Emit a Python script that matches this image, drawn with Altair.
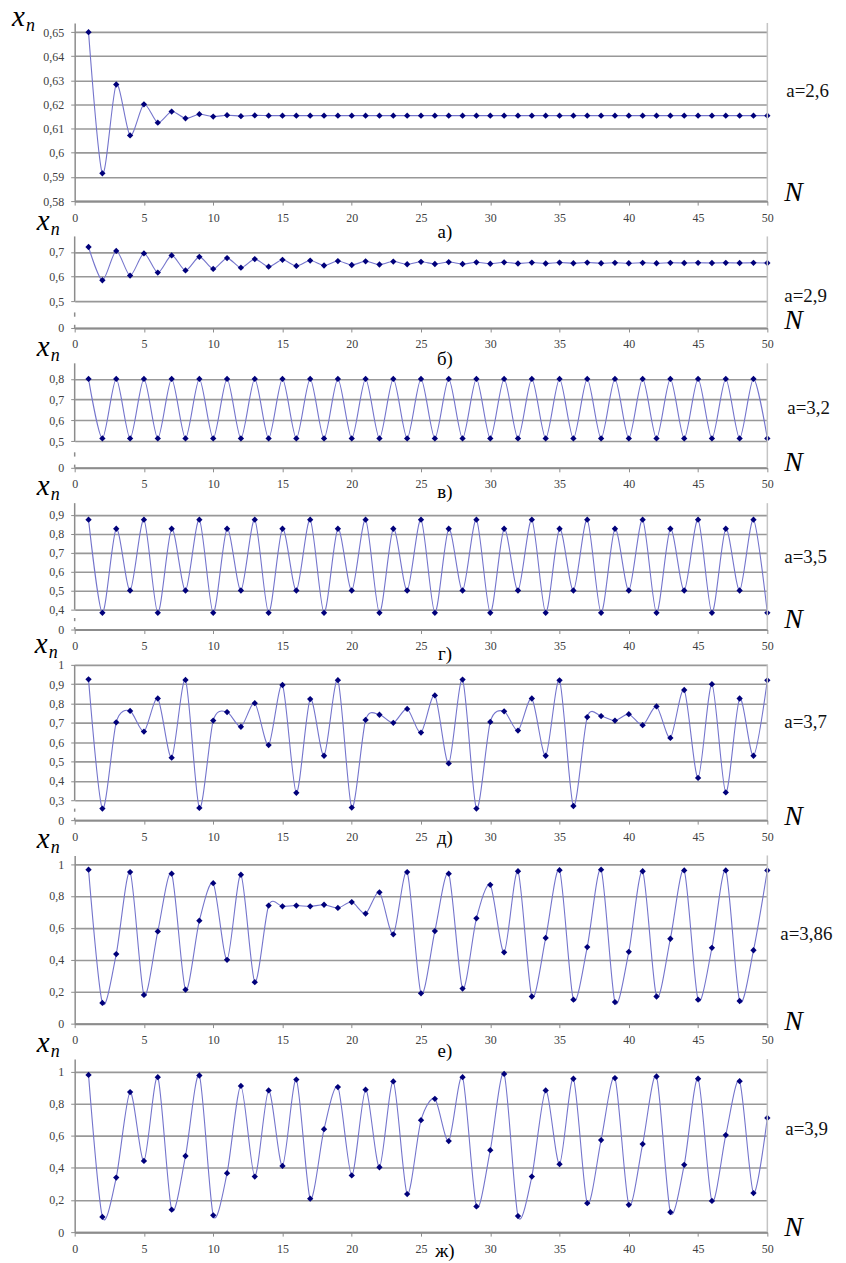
import altair as alt
import pandas as pd

SERIF = "Liberation Serif, Times New Roman, Tinos, DejaVu Serif, serif"

N = list(range(1, 51))

# a = 2.6
x_26 = [0.650, 0.5915, 0.6283, 0.6072, 0.6201, 0.6125, 0.6171, 0.6143, 0.6160, 0.6150,
        0.6156, 0.6152, 0.6155, 0.6154, 0.6154, 0.6154, 0.6154, 0.6154, 0.6154, 0.6154,
        0.6154, 0.6154, 0.6154, 0.6154, 0.6154, 0.6154, 0.6154, 0.6154, 0.6154, 0.6154,
        0.6154, 0.6154, 0.6154, 0.6154, 0.6154, 0.6154, 0.6154, 0.6154, 0.6154, 0.6154,
        0.6154, 0.6154, 0.6154, 0.6154, 0.6154, 0.6154, 0.6154, 0.6154, 0.6154, 0.6154]
# a = 2.9
x_29 = [0.720, 0.585, 0.704, 0.604, 0.694, 0.616, 0.686, 0.625, 0.680, 0.631,
        0.675, 0.636, 0.671, 0.640, 0.668, 0.643, 0.665, 0.645, 0.663, 0.647,
        0.662, 0.649, 0.661, 0.650, 0.660, 0.651, 0.659, 0.651, 0.658, 0.652,
        0.658, 0.653, 0.657, 0.653, 0.657, 0.654, 0.657, 0.654, 0.656, 0.654,
        0.656, 0.654, 0.656, 0.655, 0.656, 0.655, 0.656, 0.655, 0.656, 0.655]
# a = 3.2
x_32 = [0.800, 0.513, 0.800, 0.513, 0.800, 0.513, 0.800, 0.513, 0.800, 0.513,
        0.800, 0.513, 0.800, 0.513, 0.800, 0.513, 0.800, 0.513, 0.800, 0.513,
        0.800, 0.513, 0.800, 0.513, 0.800, 0.513, 0.800, 0.513, 0.800, 0.513,
        0.800, 0.513, 0.800, 0.513, 0.800, 0.513, 0.800, 0.513, 0.800, 0.513,
        0.800, 0.513, 0.800, 0.513, 0.800, 0.513, 0.800, 0.513, 0.800, 0.513]
# a = 3.5
x_35 = [0.875, 0.383, 0.827, 0.501, 0.875, 0.383, 0.827, 0.501, 0.875, 0.383,
        0.827, 0.501, 0.875, 0.383, 0.827, 0.501, 0.875, 0.383, 0.827, 0.501,
        0.875, 0.383, 0.827, 0.501, 0.875, 0.383, 0.827, 0.501, 0.875, 0.383,
        0.827, 0.501, 0.875, 0.383, 0.827, 0.501, 0.875, 0.383, 0.827, 0.501,
        0.875, 0.383, 0.827, 0.501, 0.875, 0.383, 0.827, 0.501, 0.875, 0.383]
# a = 3.7
x_37 = [0.925, 0.257, 0.703, 0.762, 0.655, 0.826, 0.520, 0.922, 0.260, 0.712,
        0.756, 0.680, 0.802, 0.585, 0.896, 0.338, 0.823, 0.530, 0.921, 0.262,
        0.715, 0.742, 0.700, 0.772, 0.650, 0.842, 0.490, 0.924, 0.257, 0.705,
        0.760, 0.660, 0.826, 0.530, 0.920, 0.270, 0.730, 0.735, 0.712, 0.745,
        0.688, 0.785, 0.622, 0.870, 0.415, 0.900, 0.340, 0.826, 0.530, 0.920]
# a = 3.86
x_386 = [0.965, 0.130, 0.436, 0.950, 0.180, 0.578, 0.940, 0.213, 0.645, 0.880,
         0.400, 0.933, 0.260, 0.740, 0.735, 0.740, 0.735, 0.745, 0.725, 0.762,
         0.690, 0.823, 0.560, 0.950, 0.190, 0.580, 0.940, 0.220, 0.660, 0.870,
         0.447, 0.955, 0.170, 0.537, 0.962, 0.150, 0.480, 0.965, 0.135, 0.450,
         0.955, 0.170, 0.532, 0.960, 0.150, 0.475, 0.960, 0.142, 0.460, 0.960]
# a = 3.9
x_39 = [0.979, 0.095, 0.340, 0.872, 0.443, 0.965, 0.140, 0.474, 0.975, 0.105,
        0.367, 0.910, 0.346, 0.882, 0.412, 0.950, 0.208, 0.641, 0.903, 0.353,
        0.887, 0.404, 0.938, 0.237, 0.697, 0.830, 0.567, 0.965, 0.160, 0.510,
        0.985, 0.100, 0.346, 0.882, 0.423, 0.955, 0.180, 0.573, 0.959, 0.170,
        0.548, 0.969, 0.124, 0.419, 0.955, 0.194, 0.604, 0.940, 0.243, 0.711]

series = [x_26, x_29, x_32, x_35, x_37, x_386, x_39]
a_labels = ["a=2,6", "a=2,9", "a=3,2", "a=3,5", "a=3,7", "a=3,86", "a=3,9"]
captions = ["а)", "б)", "в)", "г)", "д)", "е)", "ж)"]

# y tick values (first value of broken axes is drawn as "0")
ticks_26 = [0.58, 0.59, 0.60, 0.61, 0.62, 0.63, 0.64, 0.65]
ticks_29 = [0.391, 0.5, 0.6, 0.7]
ticks_32 = [0.371, 0.5, 0.6, 0.7, 0.8]
ticks_35 = [0.295, 0.4, 0.5, 0.6, 0.7, 0.8, 0.9]
ticks_37 = [0.197, 0.3, 0.4, 0.5, 0.6, 0.7, 0.8, 0.9, 1.0]
ticks_386 = [0, 0.2, 0.4, 0.6, 0.8, 1.0]
ticks_39 = [0, 0.2, 0.4, 0.6, 0.8, 1.0]
all_ticks = [ticks_26, ticks_29, ticks_32, ticks_35, ticks_37, ticks_386, ticks_39]
domain_top = [0.6538, 0.763, 0.875, 0.962, 1.0, 1.054, 1.078]
broken = [False, True, True, True, True, False, False]
x_ticks = [0, 5, 10, 15, 20, 25, 30, 35, 40, 45, 50]

# layout (pixels, relative to each plot area)
heights = [179, 92, 105, 127, 156, 169, 174]
fmts = [".2~f", ".1~f", ".1~f", ".1~f", ".1~f", ".1~f", ".1~f"]
a_y = [74, 66, 51, 60, 63, 85, 76]
a_x = [715, 713, 716, 713, 713, 709, 714]
n_dy = [0, 1, 3, -2, 5, 6, 4]
cap_dy = [37, 37, 30, 31, 24, 34, 25]
xn_pos = [(-63, 3), (-38, -6), (-38, -7), (-38, -8), (-40, -12), (-38, -7), (-38, -7)]

W = 696
GRID = "#989898"
AXC = "#8c8c8c"
LINE = "#7474cc"
PT = "#00007a"


def one(label=""):
    return pd.DataFrame({"label": [label]})


panels = []
for i in range(7):
    h = heights[i]
    ticks = all_ticks[i]
    lo = ticks[0]
    hi = domain_top[i]
    df = pd.DataFrame({"n": N, "v": series[i]})
    if broken[i]:
        expr = ("datum.value < %f ? '0' : replace(format(datum.value, '%s'), '.', ',')"
                % (lo + 0.001, fmts[i]))
    else:
        expr = "replace(format(datum.value, '%s'), '.', ',')" % fmts[i]

    xenc = alt.X("n:Q", scale=alt.Scale(domain=[0, 50], nice=False), title=None,
                 axis=alt.Axis(values=x_ticks, tickCount=30, grid=False, domainColor=AXC,
                               domainWidth=2, tickColor=AXC, tickSize=4, labelPadding=7,
                               labelFlush=False, labelOverlap=False,
                               labelFont=SERIF, labelFontSize=12, labelColor="#404040"))
    yaxis = alt.Axis(values=ticks, tickCount=30, labelExpr=expr, grid=True, gridColor=GRID,
                     gridWidth=1.6, domain=not broken[i], domainColor=AXC,
                     domainWidth=1.5, tickColor=AXC, tickSize=4, labelPadding=7,
                     labelOverlap=False, labelFlush=False,
                     labelFont=SERIF, labelFontSize=12, labelColor="#404040")
    yscale = alt.Scale(domain=[lo, hi], nice=False, zero=False)
    yenc = alt.Y("v:Q", scale=yscale, title=None, axis=yaxis)

    base = alt.Chart(df)
    line = base.mark_line(interpolate="cardinal", tension=0.2, color=LINE,
                          strokeWidth=1.1).encode(x=xenc, y=yenc)
    pts = base.mark_point(shape="diamond", filled=True, size=40, color=PT, opacity=1).encode(
        x=xenc, y=yenc)

    border = alt.Chart(pd.DataFrame({"n": [50]})).mark_rule(color="#c4c4c4", strokeWidth=1.5).encode(
        x=alt.X("n:Q", title=None))

    layers = [line, pts, border]

    if broken[i]:
        gap = ticks[1] - lo
        segs = pd.DataFrame({
            "n": [0, 0, 0],
            "v": [ticks[1], lo, lo + 0.42 * gap],
            "v2": [hi, lo + 0.12 * gap, lo + 0.58 * gap],
        })
        layers.append(alt.Chart(segs).mark_rule(color=AXC, strokeWidth=1.5).encode(
            x=alt.X("n:Q", title=None), y=yenc, y2="v2:Q"))

    xl, yb = xn_pos[i]
    layers.append(alt.Chart(one("x")).mark_text(font=SERIF, fontStyle="italic", fontSize=29,
                                                align="left", baseline="alphabetic", color="black")
                  .encode(text="label:N", x=alt.value(xl), y=alt.value(yb)))
    layers.append(alt.Chart(one("n")).mark_text(font=SERIF, fontStyle="italic", fontSize=18,
                                                align="left", baseline="alphabetic", color="black")
                  .encode(text="label:N", x=alt.value(xl + 14), y=alt.value(yb + 5)))
    layers.append(alt.Chart(one(a_labels[i])).mark_text(font=SERIF, fontSize=19, align="left",
                                                        baseline="alphabetic", color="#111")
                  .encode(text="label:N", x=alt.value(a_x[i]), y=alt.value(a_y[i])))
    layers.append(alt.Chart(one("N")).mark_text(font=SERIF, fontStyle="italic", fontSize=28,
                                                align="left", baseline="alphabetic", color="black")
                  .encode(text="label:N", x=alt.value(713), y=alt.value(h + n_dy[i])))
    layers.append(alt.Chart(one(captions[i])).mark_text(font=SERIF, fontSize=19, align="center",
                                                        baseline="alphabetic", color="black")
                  .encode(text="label:N", x=alt.value(372), y=alt.value(h + cap_dy[i])))

    panels.append(alt.layer(*layers).properties(width=W, height=h))

chart = alt.vconcat(*panels, spacing=35.5, bounds="flush").properties(
    padding={"top": -8, "left": 4, "right": 5, "bottom": 5},
    background="white",
).configure_view(strokeWidth=0)

chart.save("out.html", embed_options={"renderer": "svg", "actions": False})
